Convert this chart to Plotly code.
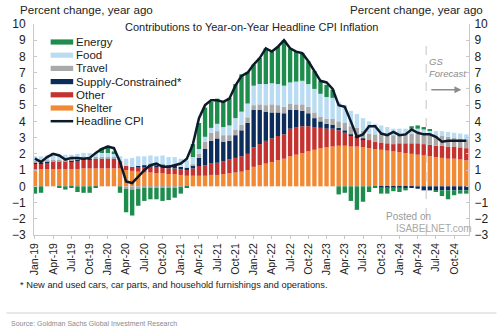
import plotly.graph_objects as go

mon = ["Jan", "Feb", "Mar", "Apr", "May", "Jun", "Jul", "Aug", "Sep", "Oct", "Nov", "Dec"]
years = ["19", "20", "21", "22", "23", "24"]
months = [f"{m}-{y}" for y in years for m in mon]
tick_labels = [f"{m}-{y}" for y in years for m in ["Jan", "Apr", "Jul", "Oct"]]

shelter = [1.05,1.05,1.05,1.05,1.05,1.05,1.05,1.05,1.1,1.1,1.1,1.1,
           1.1,1.1,1.1,1.0,0.95,0.9,0.85,0.85,0.8,0.8,0.75,0.75,
           0.7,0.65,0.65,0.65,0.65,0.7,0.7,0.75,0.8,0.85,0.9,1.0,
           1.2,1.3,1.4,1.5,1.6,1.7,1.85,1.95,2.05,2.15,2.25,2.35,
           2.4,2.45,2.5,2.5,2.45,2.45,2.4,2.35,2.3,2.25,2.2,2.15,
           2.1,2.05,2.0,1.95,1.9,1.85,1.8,1.75,1.7,1.7,1.65,1.6]
other = [0.35,0.35,0.4,0.45,0.45,0.45,0.5,0.55,0.55,0.55,0.6,0.6,
         0.6,0.6,0.45,0.25,0.25,0.3,0.35,0.35,0.35,0.35,0.35,0.35,
         0.35,0.35,0.45,0.6,0.65,0.7,0.75,0.8,0.85,0.9,0.95,1.0,
         1.2,1.3,1.4,1.45,1.5,1.5,1.7,1.7,1.65,1.55,1.4,1.25,
         1.15,1.1,0.95,0.8,0.65,0.55,0.5,0.5,0.45,0.45,0.45,0.45,
         0.55,0.6,0.65,0.7,0.7,0.7,0.7,0.75,0.75,0.75,0.75,0.75]
supply = [0.05,0.05,0.05,0.05,0.05,0.05,0.05,0.05,0.05,0.05,0.0,0.0,
          0.0,0.0,0.0,0.0,0.0,0.05,0.1,0.15,0.15,0.2,0.2,0.2,
          0.15,0.15,0.2,0.5,1.0,1.4,1.5,1.2,1.15,1.4,1.6,1.9,
          2.3,2.1,1.8,1.6,1.45,1.3,1.15,1.05,0.95,0.8,0.55,0.4,
          0.3,0.25,0.15,0.15,0.1,0.1,0.05,0.0,0.0,-0.05,-0.05,-0.05,
          -0.05,-0.1,-0.1,-0.15,-0.25,-0.25,-0.25,-0.25,-0.25,-0.25,-0.25,-0.25]
travel = [0.1,0.1,0.1,0.1,0.1,0.1,0.1,0.1,0.1,0.1,0.1,0.1,
          0.1,0.1,0.0,-0.15,-0.2,-0.15,-0.1,-0.1,-0.1,-0.1,-0.1,-0.1,
          -0.05,0.0,0.05,0.25,0.45,0.5,0.45,0.4,0.35,0.35,0.35,0.35,
          0.3,0.35,0.4,0.5,0.45,0.4,0.4,0.35,0.4,0.4,0.35,0.3,
          0.3,0.35,0.4,0.45,0.5,0.5,0.45,0.4,0.45,0.55,0.55,0.55,
          0.55,0.6,0.6,0.6,0.6,0.6,0.6,0.6,0.6,0.55,0.55,0.55]
food = [0.3,0.3,0.3,0.3,0.3,0.3,0.25,0.25,0.25,0.25,0.25,0.25,
        0.25,0.25,0.3,0.45,0.55,0.6,0.55,0.55,0.55,0.55,0.5,0.5,
        0.5,0.45,0.45,0.3,0.3,0.3,0.45,0.5,0.6,0.7,0.8,0.85,
        1.2,1.25,1.3,1.3,1.3,1.3,1.3,1.4,1.45,1.4,1.45,1.4,
        1.35,1.3,1.2,1.1,0.95,0.85,0.8,0.75,0.65,0.5,0.45,0.4,
        0.35,0.3,0.3,0.3,0.3,0.3,0.3,0.3,0.3,0.3,0.3,0.3]
energy = [-0.45,-0.4,0.0,0.05,-0.05,-0.2,-0.1,-0.35,-0.4,-0.4,-0.05,0.3,
          0.45,0.1,-0.4,-1.45,-1.6,-1.05,-0.8,-0.7,-0.7,-0.8,-0.75,-0.6,
          -0.4,-0.1,0.8,1.6,1.8,1.6,1.55,1.6,1.7,2.1,2.3,1.95,
          1.3,1.6,2.2,1.95,2.3,2.8,2.1,1.85,1.7,1.4,1.1,0.8,
          0.75,0.5,-0.5,-0.4,-0.9,-1.45,-0.95,-0.35,-0.05,-0.4,-0.4,-0.25,
          -0.3,-0.15,0.15,0.2,0.15,0.05,-0.05,-0.35,-0.55,-0.3,-0.2,-0.2]
headline = [1.7,1.5,1.8,2.0,1.9,1.65,1.75,1.75,1.7,1.75,2.05,2.3,
            2.45,2.35,1.5,0.3,0.2,0.6,1.0,1.3,1.4,1.2,1.2,1.3,
            1.4,1.7,2.6,4.2,5.0,5.3,5.3,5.2,5.4,6.2,6.8,7.0,
            7.5,7.9,8.5,8.3,8.6,9.0,8.5,8.3,8.2,7.7,7.1,6.5,
            6.4,6.0,5.0,4.9,4.0,3.05,3.2,3.7,3.7,3.25,3.15,3.35,
            3.15,3.2,3.5,3.3,3.2,3.2,3.05,2.75,2.8,2.8,2.8,2.8]

series_names = ["Shelter", "Other", "Supply-Constrained*", "Travel", "Food", "Energy"]
series_vals = [shelter, other, supply, travel, food, energy]
series_colors = ["#f28a35", "#c43330", "#0c2d5b", "#a9a9a9", "#b9dcf3", "#1d8c4c"]
line_color = "#0d1a2a"

FONT = "Arial, Liberation Sans, sans-serif"
L, R, T, B = 28, 28, 24, 98
W, H = 500, 333
def px(x):
    return (x - L) / (W - L - R)
def py(y):
    return ((H - B) - y) / (H - B - T)

fig = go.Figure()
for name, vals, col in zip(series_names, series_vals, series_colors):
    fig.add_trace(go.Bar(x=months, y=vals, name=name, marker_color=col,
                         marker_line_width=0, showlegend=False))
fig.add_trace(go.Scatter(x=months, y=headline, name="Headline CPI", mode="lines",
                         line=dict(color=line_color, width=2.5), yaxis="y2",
                         showlegend=False))

yt = list(range(-3, 11))
axis_common = dict(range=[-3, 10], tickvals=yt, showgrid=False, zeroline=False,
                   showline=True, linecolor="#c8c8c8", linewidth=1,
                   ticks="inside", ticklen=3, tickcolor="#c8c8c8",
                   tickfont=dict(family=FONT, size=12, color="#222"))
fig.update_layout(
    width=W, height=H, margin=dict(l=L, r=R, t=T, b=B),
    paper_bgcolor="white", plot_bgcolor="white",
    barmode="relative", bargap=0.28,
    showlegend=False,
    xaxis=dict(type="category", categoryorder="array", categoryarray=months,
               range=[-0.16, 71.45], tickvals=tick_labels, ticktext=tick_labels,
               tickangle=-90, showgrid=False, zeroline=False,
               showline=True, linecolor="#c8c8c8", ticks="outside", ticklen=3,
               tickcolor="#c8c8c8",
               tickfont=dict(family=FONT, size=10.5, color="#222")),
    yaxis=dict(**axis_common, side="left", ticklabelstandoff=5),
    yaxis2=dict(**axis_common, side="right", overlaying="y", anchor="x",
                ticklabelstandoff=2),
)

anns = []
# top labels
anns.append(dict(text="Percent change, year ago", xref="paper", yref="paper",
                 x=px(12), y=py(10), xanchor="left", yanchor="middle", showarrow=False,
                 font=dict(family=FONT, size=11.6, color="#222")))
anns.append(dict(text="Percent change, year ago", xref="paper", yref="paper",
                 x=px(488), y=py(10), xanchor="right", yanchor="middle", showarrow=False,
                 font=dict(family=FONT, size=11.6, color="#222")))
anns.append(dict(text="Contributions to Year-on-Year Headline CPI Inflation",
                 xref="paper", yref="paper", x=px(250), y=py(27), xanchor="center",
                 yanchor="middle", showarrow=False,
                 font=dict(family=FONT, size=11, color="#222")))
# footnote & source
anns.append(dict(text="* New and used cars, car parts, and household furnishings and operations.",
                 xref="paper", yref="paper", x=px(12), y=py(285), xanchor="left",
                 yanchor="middle", showarrow=False,
                 font=dict(family=FONT, size=9.3, color="#222")))
anns.append(dict(text="Source: Goldman Sachs Global Investment Research",
                 xref="paper", yref="paper", x=px(2), y=py(323), xanchor="left",
                 yanchor="middle", showarrow=False,
                 font=dict(family=FONT, size=7, color="#8a8a8a")))
# forecast label & arrow
anns.append(dict(text="<i>GS<br>Forecast</i>", xref="x", yref="y", x=64.5, y=7.3,
                 xanchor="left", yanchor="middle", align="left", showarrow=False,
                 font=dict(family=FONT, size=9.5, color="#8c8c8c")))
anns.append(dict(text="", xref="x", yref="y", x=70.2, y=5.95, ax=65.0, ay=5.95,
                 axref="x", ayref="y", showarrow=True, arrowhead=2, arrowsize=1,
                 arrowwidth=1.4, arrowcolor="#8c8c8c"))
# watermark
anns.append(dict(text="Posted on", xref="paper", yref="paper", x=px(410), y=py(216),
                 xanchor="center", yanchor="middle", showarrow=False,
                 font=dict(family=FONT, size=10, color="#9a9a9a")))
anns.append(dict(text="ISABELNET.com", xref="paper", yref="paper", x=px(436), y=py(228),
                 xanchor="center", yanchor="middle", showarrow=False,
                 font=dict(family=FONT, size=10, color="#a8a8a8")))

shapes = []
# manual legend
leg_names = ["Energy", "Food", "Travel", "Supply-Constrained*", "Other", "Shelter"]
for i, nm in enumerate(leg_names):
    col = series_colors[series_names.index(nm)]
    yc = 42 + i * 13.2
    shapes.append(dict(type="rect", xref="paper", yref="paper",
                       x0=px(45), x1=px(68), y0=py(yc + 2.6), y1=py(yc - 2.6),
                       fillcolor=col, line=dict(width=0)))
    anns.append(dict(text=nm, xref="paper", yref="paper", x=px(69), y=py(yc),
                     xanchor="left", yanchor="middle", showarrow=False,
                     font=dict(family=FONT, size=11.5, color="#222")))
yc = 42 + 6 * 13.2
shapes.append(dict(type="line", xref="paper", yref="paper", x0=px(45), x1=px(68),
                   y0=py(yc), y1=py(yc), line=dict(color=line_color, width=2.5)))
anns.append(dict(text="Headline CPI", xref="paper", yref="paper", x=px(69), y=py(yc),
                 xanchor="left", yanchor="middle", showarrow=False,
                 font=dict(family=FONT, size=11.5, color="#222")))

# forecast divider
shapes.append(dict(type="line", xref="x", yref="y", x0=64.4, x1=64.4, y0=-3, y1=9.0,
                   line=dict(color="#c4c4c4", width=1, dash="dash"), layer="above"))
# bottom rule
shapes.append(dict(type="line", xref="paper", yref="paper", x0=px(0), x1=px(500),
                   y0=py(313), y1=py(313), line=dict(color="#d0d0d0", width=1)))

fig.update_layout(annotations=anns, shapes=shapes)
fig.write_html("out.html")
